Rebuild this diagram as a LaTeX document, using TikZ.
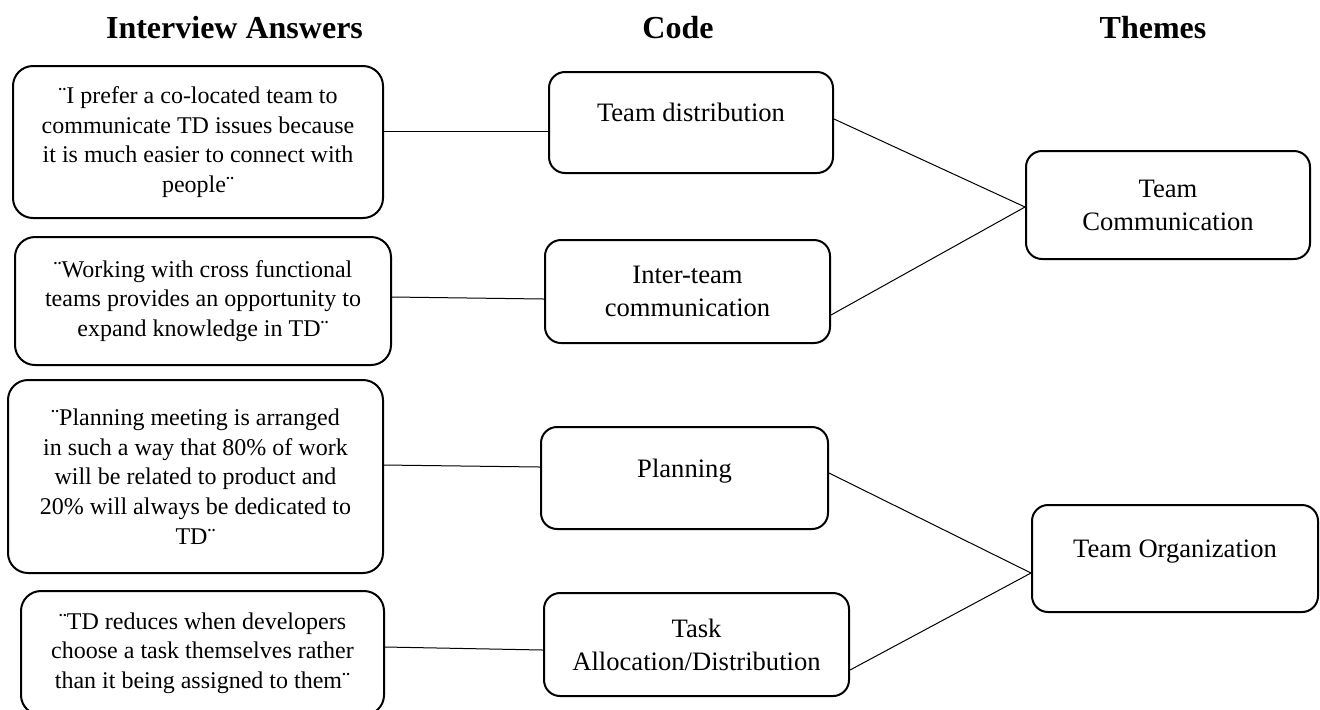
\documentclass[tikz,border=0pt]{standalone}
\usepackage{fontspec}
\setmainfont{Liberation Serif}
\usepackage{tikz}

\begin{document}
\begin{tikzpicture}[x=0.5pt, y=-0.5pt,
  head/.style={font=\fontsize{16}{19}\selectfont\bfseries, anchor=base, inner sep=0pt},
  quotebox/.style={draw, line width=1pt, rounded corners=10pt, align=center,
    inner sep=0pt, font=\fontsize{12}{14.8}\selectfont},
  codebox/.style={draw, line width=1pt, rounded corners=8pt, align=center,
    inner sep=0pt, font=\fontsize{13.3}{16.5}\selectfont},
  toptext/.style={text depth=10pt},
  link/.style={line width=0.5pt}]
  \useasboundingbox (0,0) rectangle (1320,709);
  % column titles
  \foreach \x/\name/\txt in {234.5/hanswer/Interview Answers, 678/hcode/Code, 1153/htheme/Themes}
    \node[head] (\name) at (\x,38) {\txt};
  % interview answers
  \node[quotebox, minimum width=185pt, minimum height=76pt] (q1) at (198,142)
    {¨I prefer a co-located team to\\communicate TD issues because\\it is much easier to connect with\\people¨};
  \node[quotebox, minimum width=188pt, minimum height=64pt] (q2) at (203,301)
    {¨Working with cross functional\\teams provides an opportunity to\\expand knowledge in TD¨};
  \node[quotebox, minimum width=187.5pt, minimum height=96.5pt] (q3) at (195.5,476.5)
    {¨Planning meeting is arranged\\in such a way that 80\% of work\\will be related to product and\\20\% will always be dedicated to\\TD¨};
  \node[quotebox, minimum width=181.5pt, minimum height=62pt] (q4) at (202.5,653)
    {¨TD reduces when developers\\choose a task themselves rather\\than it being assigned to them¨};
  % codes
  \node[codebox, toptext, minimum width=142pt, minimum height=50.5pt] (c1) at (691,122.5) {Team distribution};
  \node[codebox, minimum width=142.5pt, minimum height=51.5pt] (c2) at (687.5,291.5) {Inter-team\\communication};
  \node[codebox, toptext, minimum width=143.5pt, minimum height=51pt] (c3) at (684.5,478) {Planning};
  \node[codebox, minimum width=152.5pt, minimum height=51.5pt] (c4) at (696.5,644.5) {Task\\Allocation/Distribution};
  % themes
  \node[codebox, minimum width=142pt, minimum height=54pt] (t1) at (1168,205) {Team\\Communication};
  \node[codebox, toptext, minimum width=143pt, minimum height=53.5pt] (t2) at (1175,558.5) {Team Organization};
  % answers to codes
  \draw[link] ([yshift=5.5pt]q1.east) -- ([yshift=-4.25pt]c1.west);
  \draw[link] ([yshift=2pt]q2.east) -- ([yshift=-3.75pt]c2.west);
  \draw[link] ([yshift=5.75pt]q3.east) -- ([yshift=5.5pt]c3.west);
  \draw[link] ([yshift=3pt]q4.east) -- ([yshift=-2.75pt]c4.west);
  % codes to themes
  \draw[link] ([yshift=1.75pt]c1.east) -- ([yshift=-1pt]t1.west);
  \draw[link] ([yshift=-11.75pt]c2.east) -- ([yshift=-1pt]t1.west);
  \draw[link] ([yshift=2.5pt]c3.east) -- ([yshift=-7.25pt]t2.west);
  \draw[link] ([yshift=-12.75pt]c4.east) -- ([yshift=-7.25pt]t2.west);
\end{tikzpicture}
\end{document}
